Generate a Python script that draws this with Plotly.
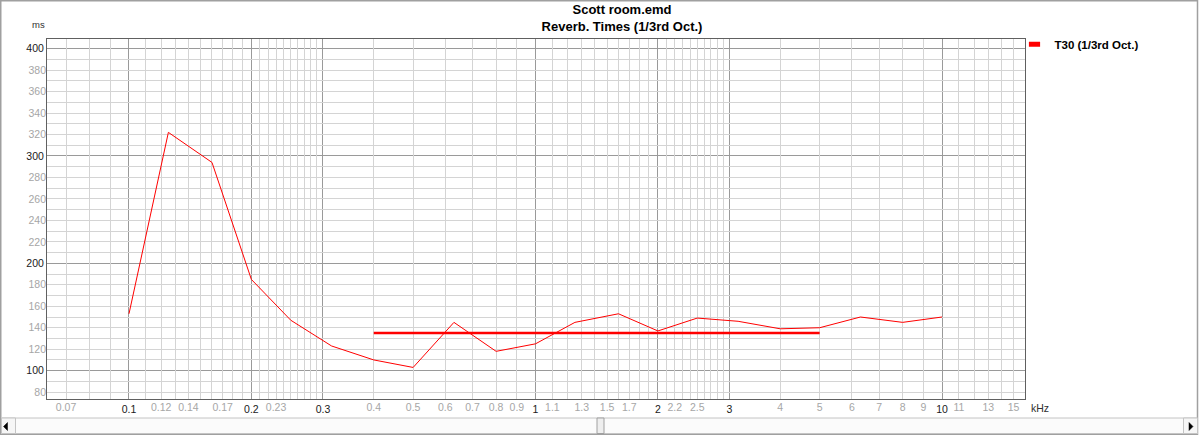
import plotly.graph_objects as go

# ---------------- data ----------------
freq_khz = [0.1, 0.125, 0.16, 0.2, 0.25, 0.315, 0.4, 0.5, 0.63, 0.8, 1.0,
            1.25, 1.6, 2.0, 2.5, 3.15, 4.0, 5.0, 6.3, 8.0, 10.0]
t30_ms = [153, 322, 294, 185, 147, 123, 110, 103, 145, 118, 125,
          145, 153, 137, 149, 146, 139, 140, 150, 145, 150]

avg_freq_khz = [0.4, 5.0]
avg_t30_ms = [135, 135]

series_name = "T30 (1/3rd Oct.)"

# x axis labels: dark ones and grey ones
x_dark_ticks = [0.1, 0.2, 0.3, 1, 2, 3, 10]
x_dark_labels = ["0.1", "0.2", "0.3", "1", "2", "3", "10"]
x_grey_ticks = [0.07, 0.12, 0.14, 0.17, 0.23, 0.4, 0.5, 0.6, 0.7, 0.8, 0.9,
                1.1, 1.3, 1.5, 1.7, 2.2, 2.5, 4, 5, 6, 7, 8, 9, 11, 13, 15]
x_grey_labels = ["0.07", "0.12", "0.14", "0.17", "0.23", "0.4", "0.5", "0.6",
                 "0.7", "0.8", "0.9", "1.1", "1.3", "1.5", "1.7", "2.2", "2.5",
                 "4", "5", "6", "7", "8", "9", "11", "13", "15"]
# light vertical grid lines
x_light_grid = [0.07, 0.08, 0.09,
                0.11, 0.12, 0.13, 0.14, 0.15, 0.16, 0.17, 0.18, 0.19,
                0.21, 0.22, 0.23, 0.24, 0.25, 0.26, 0.27, 0.28, 0.29,
                0.4, 0.5, 0.6, 0.7, 0.8, 0.9,
                1.1, 1.2, 1.3, 1.4, 1.5, 1.6, 1.7, 1.8, 1.9,
                2.1, 2.2, 2.3, 2.4, 2.5, 2.6, 2.7, 2.8, 2.9,
                4, 5, 6, 7, 8, 9,
                11, 12, 13, 14, 15]

y_dark_ticks = [100, 200, 300, 400]
y_grey_ticks = [80, 120, 140, 160, 180, 220, 240, 260, 280, 320, 340, 360, 380]
y_light_grid = [80, 90, 110, 120, 130, 140, 150, 160, 170, 180, 190,
                210, 220, 230, 240, 250, 260, 270, 280, 290,
                310, 320, 330, 340, 350, 360, 370, 380, 390]

x_range_log = [-1.2017, 1.2041]
y_range = [73.6, 409]

# ---------------- layout geometry ----------------
W, H = 1200, 435
ML, MR, MT, MB = 47, 175, 39, 36
PW, PH = W - ML - MR, H - MT - MB


def X(px):
    return (px - ML) / PW


def Y(py):
    return (H - MB - py) / PH


FONT = "Liberation Sans, Arial, sans-serif"
RED = "#ff0000"

fig = go.Figure()

fig.add_trace(go.Scatter(
    x=freq_khz, y=t30_ms, mode="lines",
    line=dict(color=RED, width=1),
    showlegend=False, hoverinfo="skip", legendgroup="t30"))

fig.add_trace(go.Scatter(
    x=avg_freq_khz, y=avg_t30_ms, mode="lines",
    line=dict(color=RED, width=2.5),
    showlegend=False, hoverinfo="skip", legendgroup="t30"))

# legend entry (filled red rectangle)
fig.add_trace(go.Scatter(
    x=[None], y=[None], mode="markers", name=series_name,
    marker=dict(symbol="line-ew", size=8, color=RED,
                line=dict(color=RED, width=6)),
    legendgroup="t30", showlegend=True))

# carriers for overlay axes (grey labels, light grid)
fig.add_trace(go.Scatter(x=[None], y=[None], xaxis="x2", yaxis="y2",
                         mode="markers", showlegend=False, hoverinfo="skip"))
fig.add_trace(go.Scatter(x=[None], y=[None], xaxis="x3", yaxis="y3",
                         mode="markers", showlegend=False, hoverinfo="skip"))

axis_line = "#606060"
dark_grid = "#9a9a9a"
light_grid = "#d4d4d4"
dark_lab = "#1a1a1a"
grey_lab = "#a6a6a6"

fig.update_layout(
    width=W, height=H,
    margin=dict(l=ML, r=MR, t=MT, b=MB, pad=0, autoexpand=False),
    paper_bgcolor="white", plot_bgcolor="white",
    font=dict(family=FONT, size=11, color="#000000"),
    title=dict(text="Scott room.emd<br>Reverb. Times (1/3rd Oct.)",
               x=622 / W, xref="container", xanchor="center",
               y=1 - 14 / H, yref="container", yanchor="top",
               font=dict(family=FONT, size=13, color="#000000", weight="bold")),
    xaxis=dict(type="log", range=x_range_log, tickmode="array",
               tickvals=x_dark_ticks, ticktext=x_dark_labels,
               tickfont=dict(family=FONT, size=10.5, color=dark_lab),
               ticks="", showgrid=True, gridcolor=dark_grid, gridwidth=1,
               showline=True, linecolor=axis_line, linewidth=1, mirror=True,
               zeroline=False, fixedrange=True),
    xaxis2=dict(type="log", range=x_range_log, overlaying="x", anchor="y2",
                side="bottom", tickmode="array",
                tickvals=x_grey_ticks, ticktext=x_grey_labels,
                tickfont=dict(family=FONT, size=10.5, color=grey_lab),
                ticks="", showgrid=False, showline=False, zeroline=False,
                fixedrange=True),
    xaxis3=dict(type="log", range=x_range_log, overlaying="x", anchor="y3",
                side="bottom", tickmode="array", tickvals=x_light_grid,
                showticklabels=False, ticks="", showgrid=True,
                gridcolor=light_grid, gridwidth=1, showline=False,
                zeroline=False, fixedrange=True),
    yaxis=dict(range=y_range, tickmode="array", tickvals=y_dark_ticks,
               tickfont=dict(family=FONT, size=10.5, color=dark_lab),
               ticks="", showgrid=True, gridcolor=dark_grid, gridwidth=1,
               showline=True, linecolor=axis_line, linewidth=1, mirror=True,
               zeroline=False, fixedrange=True),
    yaxis2=dict(range=y_range, overlaying="y", anchor="x2", side="left",
                tickmode="array", tickvals=y_grey_ticks,
                tickfont=dict(family=FONT, size=10.5, color=grey_lab),
                ticks="", showgrid=False, showline=False, zeroline=False,
                fixedrange=True),
    yaxis3=dict(range=y_range, overlaying="y", anchor="x3", side="left",
                tickmode="array", tickvals=y_light_grid,
                showticklabels=False, ticks="", showgrid=True,
                gridcolor=light_grid, gridwidth=1, showline=False,
                zeroline=False, fixedrange=True),
    legend=dict(x=X(1014.5), xanchor="left", y=Y(44.3), yanchor="middle",
                bgcolor="rgba(0,0,0,0)", borderwidth=0,
                font=dict(family=FONT, size=11.5, color="#000000", weight="bold"),
                itemwidth=30, tracegroupgap=0),
    annotations=[
        dict(text="ms", x=X(38.5), y=Y(25), xref="paper", yref="paper",
             showarrow=False, xanchor="center", yanchor="middle",
             font=dict(family=FONT, size=9.5, color="#303030")),
        dict(text="kHz", x=X(1028.5), y=Y(408), xref="paper", yref="paper",
             showarrow=False, xanchor="left", yanchor="middle",
             font=dict(family=FONT, size=10.5, color="#303030")),
    ],
    hovermode=False,
)

# window chrome: outer frame and horizontal scroll bar
shapes = [
    dict(type="rect", xref="paper", yref="paper",
         x0=X(0.75), x1=X(1197.5), y0=Y(434.5), y1=Y(0.75),
         line=dict(color="#a0a0a0", width=1.5), fillcolor="rgba(0,0,0,0)",
         layer="above"),
    dict(type="rect", xref="paper", yref="paper",
         x0=X(1.5), x1=X(1197.5), y0=Y(433.5), y1=Y(418),
         line=dict(color="#c4c4c4", width=1), fillcolor="#fbfbfb", layer="above"),
    dict(type="rect", xref="paper", yref="paper",
         x0=X(1.5), x1=X(15.5), y0=Y(433.5), y1=Y(418),
         line=dict(color="#c4c4c4", width=1), fillcolor="#f6f6f6", layer="above"),
    dict(type="rect", xref="paper", yref="paper",
         x0=X(1183.5), x1=X(1197.5), y0=Y(433.5), y1=Y(418),
         line=dict(color="#c4c4c4", width=1), fillcolor="#f6f6f6", layer="above"),
    dict(type="rect", xref="paper", yref="paper",
         x0=X(597), x1=X(604), y0=Y(433.5), y1=Y(418),
         line=dict(color="#a0a0a0", width=1), fillcolor="#eeeeee", layer="above"),
    dict(type="path", xref="paper", yref="paper",
         path=f"M{X(7.5)},{Y(422.5)} L{X(7.5)},{Y(430.5)} L{X(3.5)},{Y(426.5)} Z",
         line=dict(color="#000000", width=0.5), fillcolor="#000000", layer="above"),
    dict(type="path", xref="paper", yref="paper",
         path=f"M{X(1189)},{Y(422.5)} L{X(1189)},{Y(430.5)} L{X(1193)},{Y(426.5)} Z",
         line=dict(color="#000000", width=0.5), fillcolor="#000000", layer="above"),
]
fig.update_layout(shapes=shapes)

fig.write_html("out.html", config={"displayModeBar": False},
               post_script="document.body.style.margin='0';"
                           "document.body.style.overflow='hidden';")
